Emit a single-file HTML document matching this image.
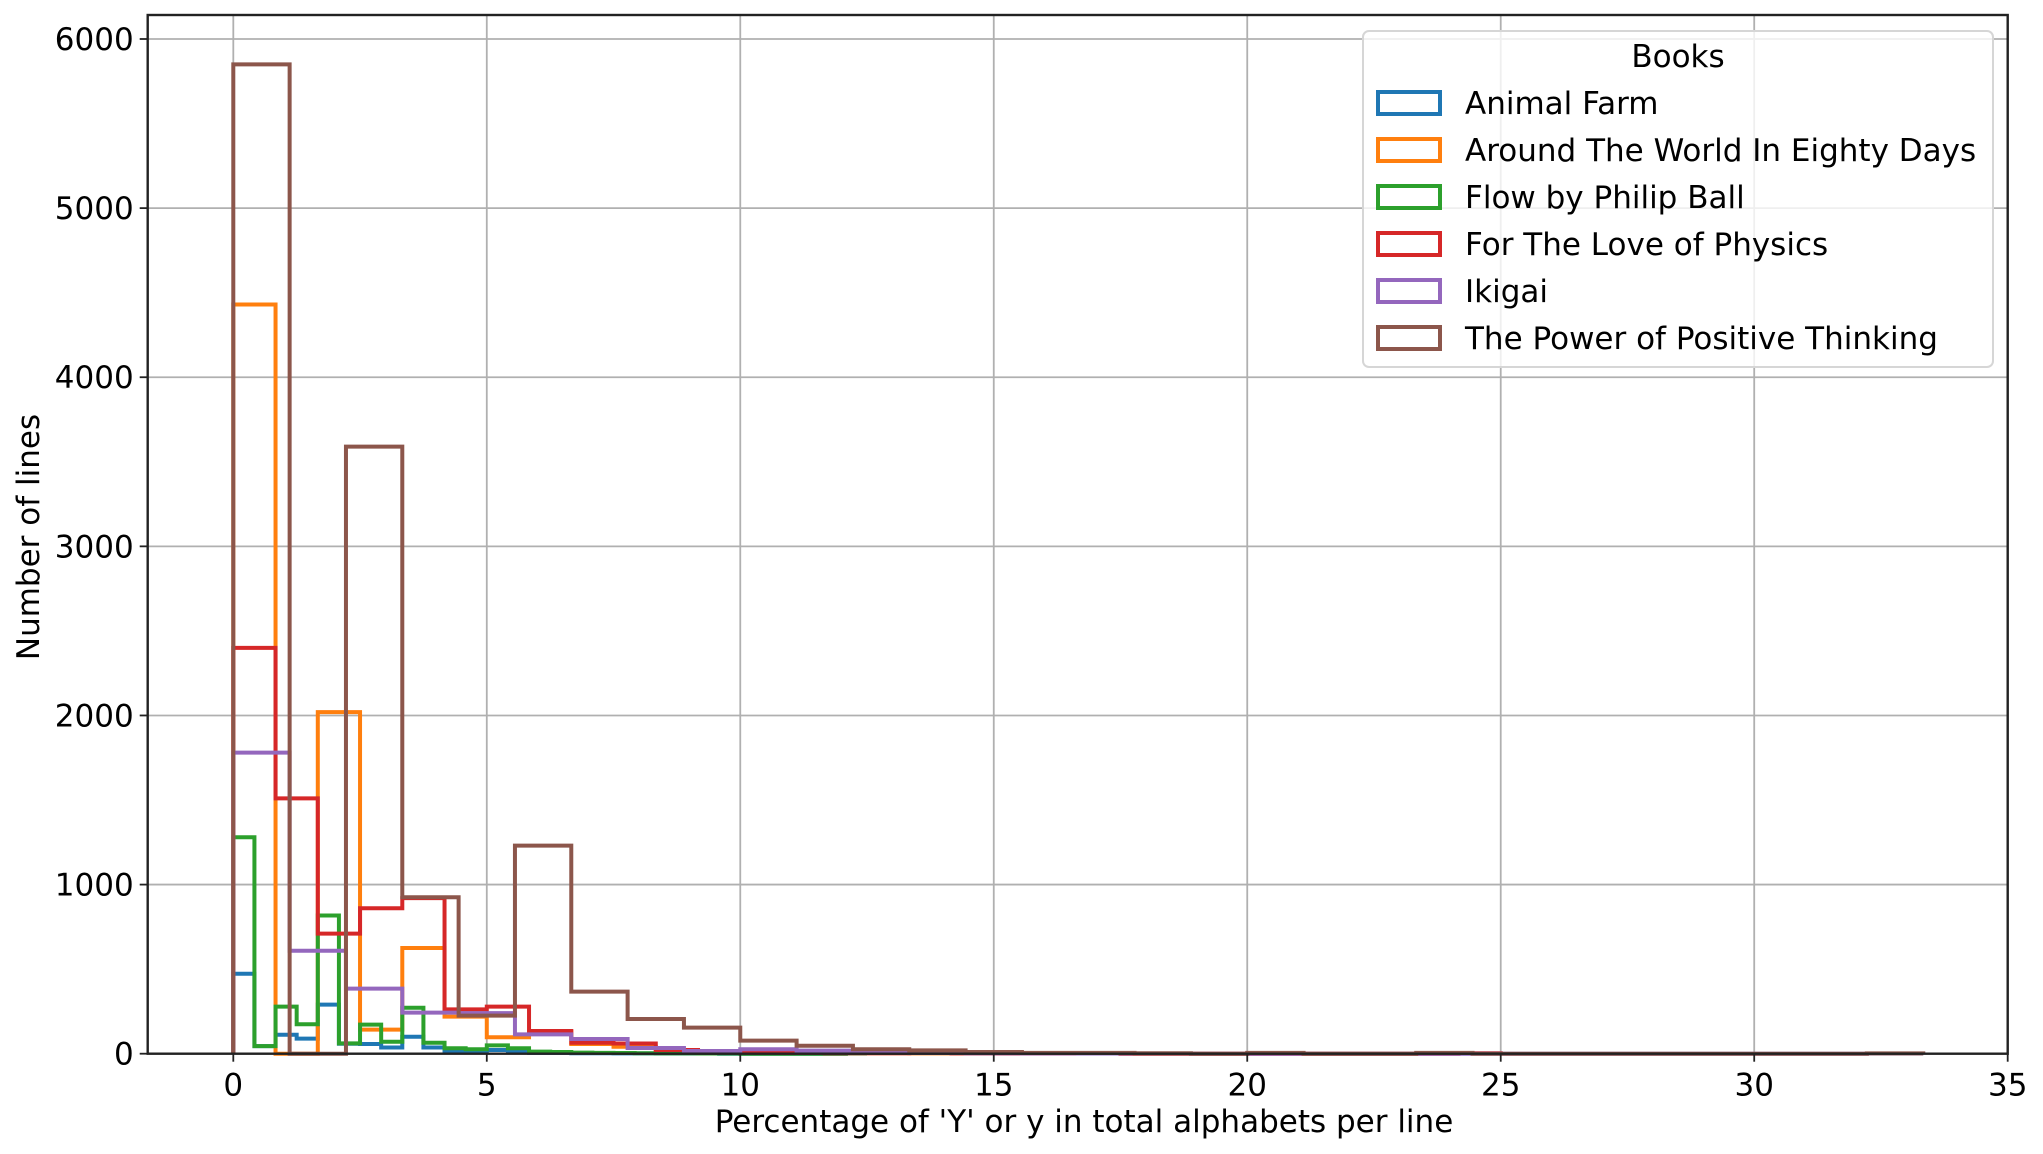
<!DOCTYPE html>
<html><head><meta charset="utf-8"><style>
html,body{margin:0;padding:0;background:#fff;}
svg{display:block;font-family:"DejaVu Sans","Liberation Sans",sans-serif;}
</style></head><body>
<svg id="chart" width="2043" height="1154" viewBox="0 0 2043 1154">
<g id="grid"></g>
<g id="bars"></g>
<g id="axes"></g>
<text x="1084" y="1132" font-size="31" text-anchor="middle" fill="#000">Percentage of 'Y' or y in total alphabets per line</text>
<text transform="translate(39,537) rotate(-90)" font-size="31" text-anchor="middle" fill="#000">Number of lines</text>
<g id="legend"></g>
</svg>
<script>
const books = ["Animal Farm","Around The World In Eighty Days","Flow by Philip Ball","For The Love of Physics","Ikigai","The Power of Positive Thinking"];
const colors = ["#1f77b4","#ff7f0e","#2ca02c","#d62728","#9467bd","#8c564b"];
const binWidths = [5/12, 5/6, 5/12, 5/6, 10/9, 10/9];
const animalFarm = [473,45,112,89,290,59,57,37,100,37,12,12,22,12,5,5,3,3,2,2,1,1,1,0,0,0,0,0,0,1];
const aroundWorld = [4430,0,2020,142,625,219,97,130,57,41,12,8,5,4,3,3,2,2,1,1,1,0,0,0,0,0,0,0,0,1];
const flow = [1280,45,278,174,817,61,172,71,272,65,32,26,49,32,12,10,6,5,4,3,2,2,1,1,0,0,0,0,0,1];
const lovePhysics = [2400,1510,710,860,920,262,278,134,65,60,22,10,6,5,3,3,5,2,1,1,1,0,0,0,0,0,0,0,0,3];
const ikigai = [1780,609,385,243,240,114,87,34,16,26,18,8,4,3,2,1,1,0,0,0,0,0,0,0,0,0,0,0,0,1];
const powerPositive = [5850,0,3590,925,225,1230,367,205,154,77,47,26,20,10,5,5,3,0,5,0,0,5,0,0,0,0,0,0,0,2];
const seriesValues = [animalFarm, aroundWorld, flow, lovePhysics, ikigai, powerPositive];
const xTicks = [0,5,10,15,20,25,30,35];
const yTicks = [0,1000,2000,3000,4000,5000,6000];

const L=147.7,R=2007.7,T=15,B=1053.7;
const xs=v=>233.3+v*(2007.7-233.3)/35;
const ys=v=>1053.7-v*(1053.7-39)/6000;
const NS="http://www.w3.org/2000/svg";
function mk(tag,attrs,parent){const e=document.createElementNS(NS,tag);for(const k in attrs)e.setAttribute(k,attrs[k]);parent.appendChild(e);return e;}
const grid=document.getElementById('grid'),bars=document.getElementById('bars'),axes=document.getElementById('axes'),legend=document.getElementById('legend');

xTicks.forEach(t=>{
  const g=mk('line',{x1:xs(t),x2:xs(t),y1:T,y2:B,stroke:'#b0b0b0','stroke-width':1.8},grid);
  
  
  const tk=mk('line',{x1:xs(t),x2:xs(t),y1:B,y2:B+8,stroke:'#222','stroke-width':1.8},axes);
  
  
  const lb=mk('text',{x:xs(t),y:B+42,'font-size':31,'text-anchor':'middle',fill:'#000'},axes);
  lb.textContent=t;
  
  
});
yTicks.forEach(t=>{
  const g=mk('line',{x1:L,x2:R,y1:ys(t),y2:ys(t),stroke:'#b0b0b0','stroke-width':1.8},grid);
  
  
  const tk=mk('line',{x1:L-8,x2:L,y1:ys(t),y2:ys(t),stroke:'#222','stroke-width':1.8},axes);
  
  
  const lb=mk('text',{x:L-14,y:ys(t)+11,'font-size':31,'text-anchor':'end',fill:'#000'},axes);
  lb.textContent=t;
  
  
});

seriesValues.forEach((vals,si)=>{
  const w=binWidths[si];
  let d='M'+xs(0)+','+ys(0);
  vals.forEach((v,i)=>{d+=' L'+xs(i*w)+','+ys(v)+' L'+xs((i+1)*w)+','+ys(v);});
  d+=' L'+xs(vals.length*w)+','+ys(0);
  const p=mk('path',{d:d,fill:'none',stroke:colors[si],'stroke-width':4,'stroke-linejoin':'miter'},bars);
  
  
});

const sp=mk('rect',{x:L,y:T,width:R-L,height:B-T,fill:'none',stroke:'#222','stroke-width':2.4},axes);



const lb=mk('rect',{x:1363,y:31,width:630,height:336,rx:6,fill:'#fff','fill-opacity':0.8,stroke:'#d6d6d6','stroke-width':2},legend);


const lt=mk('text',{x:1678,y:67,'font-size':31,'text-anchor':'middle',fill:'#000'},legend);
lt.textContent='Books';


books.forEach((b,i)=>{
  const cy=103+i*47;
  const r=mk('rect',{x:1378,y:cy-11,width:62,height:22,fill:'none',stroke:colors[i],'stroke-width':4},legend);
  
  
  const t=mk('text',{x:1465,y:cy+11,'font-size':31,fill:'#000'},legend);
  t.textContent=b;
  
  
});
</script>
</body></html>
